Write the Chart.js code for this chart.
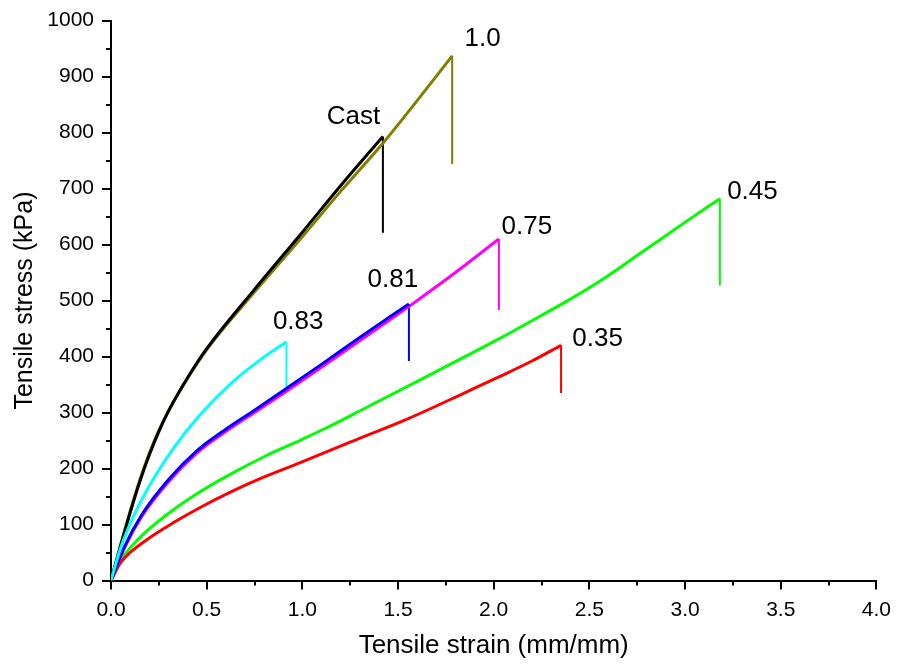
<!DOCTYPE html>
<html>
<head>
<meta charset="utf-8">
<script src="https://cdn.jsdelivr.net/npm/chart.js@4.4.1/dist/chart.umd.min.js"></script>
<style>
  html, body { margin: 0; padding: 0; background: #fff; }
  #wrap { width: 899px; height: 668px; }
</style>
</head>
<body>
<div id="wrap"><canvas id="chart" width="899" height="668"></canvas></div>
<script>
// tick values
const xTicks = [0, 0.5, 1.0, 1.5, 2.0, 2.5, 3.0, 3.5, 4.0];
const yTicks = [0, 100, 200, 300, 400, 500, 600, 700, 800, 900, 1000];

// stress-strain curves (strain mm/mm, stress kPa)
const castX = [0, 0.05, 0.1, 0.15, 0.2, 0.25, 0.3, 0.4, 0.5, 0.75, 1.0, 1.2, 1.421];
const castY = [0, 62, 121, 176, 224, 266, 302, 362, 414, 520, 622, 705, 793];

const oneX = [0, 0.05, 0.1, 0.15, 0.2, 0.25, 0.3, 0.4, 0.5, 0.75, 1.0, 1.2, 1.421, 1.6, 1.783];
const oneY = [0, 64, 124, 179, 227, 268, 303, 361, 412, 515, 614, 695, 781, 857, 937];

const p83X = [0, 0.052, 0.124, 0.216, 0.328, 0.466, 0.638, 0.78, 0.917];
const p83Y = [0, 60, 119, 178, 237, 296, 355, 394, 426];

const p81X = [0, 0.07, 0.16, 0.3, 0.45, 0.6, 0.75, 0.9, 1.1, 1.3, 1.557];
const p81Y = [0, 60, 117, 180, 232, 270, 304, 339, 386, 434, 494];

const p75X = [0, 0.07, 0.16, 0.3, 0.45, 0.6, 0.75, 0.9, 1.1, 1.3, 1.56, 1.8, 2.027];
const p75Y = [0, 58, 114, 176, 228, 266, 300, 334, 381, 428, 490, 550, 610];

const p45X = [0, 0.05, 0.1, 0.2, 0.325, 0.464, 0.604, 0.8, 0.986, 1.117, 1.335, 1.682, 2.03, 2.2, 2.378, 2.552, 2.761, 3.022, 3.182];
const p45Y = [0, 36, 58, 92, 126, 158, 186, 221, 250, 271, 309, 370, 432, 464, 498, 534, 583, 645, 682];

const p35X = [0, 0.05, 0.1, 0.2, 0.325, 0.464, 0.638, 0.795, 0.986, 1.25, 1.56, 1.86, 2.03, 2.2, 2.352];
const p35Y = [0, 32, 50, 76, 103, 130, 160, 184, 210, 247, 290, 337, 364, 392, 420];

// stress value where each fracture drop ends
const seriesNames = ['0.83', 'Cast', '0.81', '1.0', '0.75', '0.35', '0.45'];
const seriesX = [p83X, castX, p81X, oneX, p75X, p35X, p45X];
const seriesY = [p83Y, castY, p81Y, oneY, p75Y, p35Y, p45Y];
const breakY = [341, 621, 392, 744, 483, 335, 527];
const colors = ['#00ffff', '#000000', '#0000ff', '#808000', '#ff00ff', '#ff0000', '#00ff00'];

// curve labels placed in data coordinates
const labelText = ['1.0', 'Cast', '0.75', '0.81', '0.83', '0.45', '0.35'];
const labelX = [1.848, 1.127, 2.041, 1.341, 0.846, 3.220, 2.411];
const labelY = [967, 829, 632, 537, 462, 694, 431];

const FONT = "'Liberation Sans', Arial, sans-serif";

const datasets = [];
seriesNames.forEach((name, i) => {
    const xs = seriesX[i], ys = seriesY[i];
    datasets.push({
        label: name,
        data: xs.map((x, j) => ({ x: x, y: ys[j] })),
        borderColor: colors[i],
        borderWidth: 3,
        cubicInterpolationMode: 'monotone',
        pointRadius: 0,
        showLine: true
    });
});
// drop lines at fracture, drawn under the curves
seriesNames.forEach((name, i) => {
    const xs = seriesX[i], ys = seriesY[i];
    const last = xs.length - 1;
    datasets.push({
        label: name + ' break',
        data: [{ x: xs[last], y: ys[last] }, { x: xs[last], y: breakY[i] }],
        borderColor: colors[i],
        borderWidth: 2,
        pointRadius: 0,
        showLine: true,
        tension: 0
    });
});

const minorTicks = {
    id: 'minorTicks',
    afterDraw(chart) {
        const { ctx, scales: { x, y } } = chart;
        ctx.save();
        ctx.strokeStyle = '#000';
        ctx.lineWidth = 2;
        ctx.beginPath();
        for (let i = 0; i < xTicks.length - 1; i++) {
            const px = Math.round(x.getPixelForValue((xTicks[i] + xTicks[i + 1]) / 2));
            ctx.moveTo(px, x.top);
            ctx.lineTo(px, x.top + 5);
        }
        for (let i = 0; i < yTicks.length - 1; i++) {
            const py = Math.round(y.getPixelForValue((yTicks[i] + yTicks[i + 1]) / 2));
            ctx.moveTo(y.right, py);
            ctx.lineTo(y.right - 5, py);
        }
        ctx.stroke();
        ctx.restore();
    }
};

const curveLabels = {
    id: 'curveLabels',
    afterDatasetsDraw(chart) {
        const { ctx, scales: { x, y } } = chart;
        ctx.save();
        ctx.fillStyle = '#000';
        ctx.font = '26px ' + FONT;
        ctx.textAlign = 'left';
        ctx.textBaseline = 'middle';
        labelText.forEach((t, i) => {
            ctx.fillText(t, x.getPixelForValue(labelX[i]), y.getPixelForValue(labelY[i]));
        });
        ctx.restore();
    }
};

new Chart(document.getElementById('chart'), {
    type: 'scatter',
    data: { datasets },
    options: {
        responsive: false,
        animation: false,
        layout: { padding: { top: 16, right: 21, left: 0, bottom: 0 } },
        plugins: { legend: { display: false }, tooltip: { enabled: false } },
        scales: {
            x: {
                type: 'linear',
                min: 0,
                max: 4,
                afterBuildTicks: s => { s.ticks = xTicks.map(v => ({ value: v })); },
                afterFit: s => { s.height = 87.5; },
                ticks: {
                    color: '#000',
                    padding: 8,
                    font: { family: FONT, size: 21 },
                    callback: v => Number(v).toFixed(1)
                },
                grid: { drawOnChartArea: false, tickLength: 9, color: '#000', lineWidth: 2 },
                border: { color: '#000', width: 2 },
                title: {
                    display: true,
                    text: 'Tensile strain (mm/mm)',
                    color: '#000',
                    font: { family: FONT, size: 26 },
                    padding: { top: 0, bottom: 7 }
                }
            },
            y: {
                type: 'linear',
                min: 0,
                max: 1000,
                afterBuildTicks: s => { s.ticks = yTicks.map(v => ({ value: v })); },
                afterFit: s => { s.width = 111; },
                ticks: {
                    color: '#000',
                    padding: 8,
                    font: { family: FONT, size: 21 },
                    callback: v => String(v)
                },
                grid: { drawOnChartArea: false, tickLength: 9, color: '#000', lineWidth: 2 },
                border: { color: '#000', width: 2 },
                title: {
                    display: true,
                    text: 'Tensile stress (kPa)',
                    color: '#000',
                    font: { family: FONT, size: 25 },
                    padding: { top: 10, bottom: 0 }
                }
            }
        }
    },
    plugins: [minorTicks, curveLabels]
});
</script>
</body>
</html>
